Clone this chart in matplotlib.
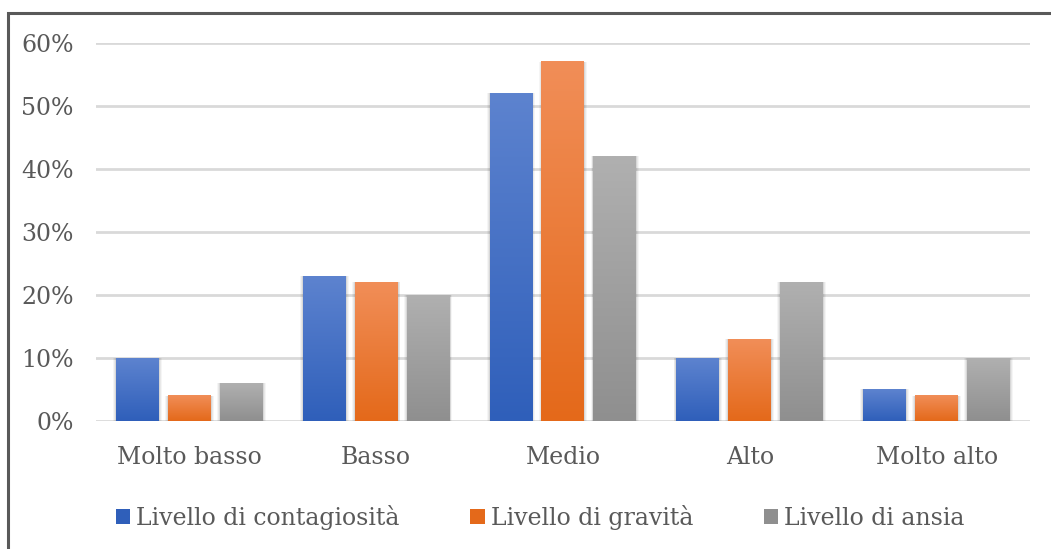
import matplotlib.pyplot as plt
import numpy as np
from matplotlib.colors import LinearSegmentedColormap
from matplotlib.patches import Rectangle
from matplotlib.ticker import PercentFormatter

categorie = ["Molto basso", "Basso", "Medio", "Alto", "Molto alto"]
serie = ["Livello di contagiosità", "Livello di gravità", "Livello di ansia"]
contagiosita = [0.10, 0.23, 0.52, 0.10, 0.05]
gravita = [0.04, 0.22, 0.57, 0.13, 0.04]
ansia = [0.06, 0.20, 0.42, 0.22, 0.10]

# colori (alto, basso) per il gradiente di ogni serie
colori = [("#5d83cf", "#2f5fba"), ("#f18e58", "#e4691a"), ("#b0b0b0", "#8f8f8f")]

plt.rcParams["font.family"] = ["DejaVu Serif"]
testo = "#595959"

fig = plt.figure(figsize=(10.51, 5.49), dpi=100)
ax = fig.add_axes([0.0913, 0.2332, 0.8887, 0.6885])

x = np.arange(len(categorie))
w = 0.23
passo = 0.278
grad = np.linspace(0, 1, 256).reshape(-1, 1)

for i, (valori, (c_top, c_bot)) in enumerate(zip([contagiosita, gravita, ansia], colori)):
    cmap = LinearSegmentedColormap.from_list("g%d" % i, [c_bot, c_top])
    for xc, v in zip(x + (i - 1) * passo, valori):
        x0 = xc - w / 2
        # ombra morbida attorno alla barra
        for k, a in enumerate([0.04, 0.05, 0.07]):
            d = 0.005 * (3 - k)
            ax.add_patch(Rectangle((x0 - d, 0), w + 2 * d, v + d * 0.02,
                                   facecolor="black", alpha=a, lw=0, zorder=2))
        # gradiente verticale della barra, dal colore scuro in basso al chiaro in alto
        ax.imshow(grad, cmap=cmap, origin="lower", aspect="auto",
                  extent=(x0, x0 + w, 0, v), vmin=0, vmax=1, zorder=3)

ax.set_xlim(-0.5, len(categorie) - 0.5)
ax.set_ylim(0, 0.6)
ax.set_yticks(np.arange(0, 0.61, 0.1))
ax.yaxis.set_major_formatter(PercentFormatter(1.0, decimals=0))
ax.set_xticks(x)
ax.set_xticklabels(categorie)
ax.grid(axis="y", color="#d9d9d9", lw=2, zorder=0)
ax.set_axisbelow(True)
for s in ax.spines.values():
    s.set_visible(False)
ax.tick_params(axis="both", length=0, labelsize=17, colors=testo)
ax.tick_params(axis="y", pad=16)
ax.tick_params(axis="x", pad=18)

handles = [Rectangle((0, 0), 1, 1, facecolor=c[1]) for c in colori]
fig.legend(handles, serie, loc="center", bbox_to_anchor=(0.514, 0.058), ncol=3,
           frameon=False, fontsize=17, labelcolor=testo, handlelength=0.6,
           handleheight=0.6, handletextpad=0.25, columnspacing=3.0)

# cornice del grafico
fig.patches.append(Rectangle((8 / 1051, -0.1), 1.2, 1.1 - 13 / 549, transform=fig.transFigure,
                             fill=False, edgecolor="#595959", lw=2.2))

fig.savefig("out.png", dpi=100)
